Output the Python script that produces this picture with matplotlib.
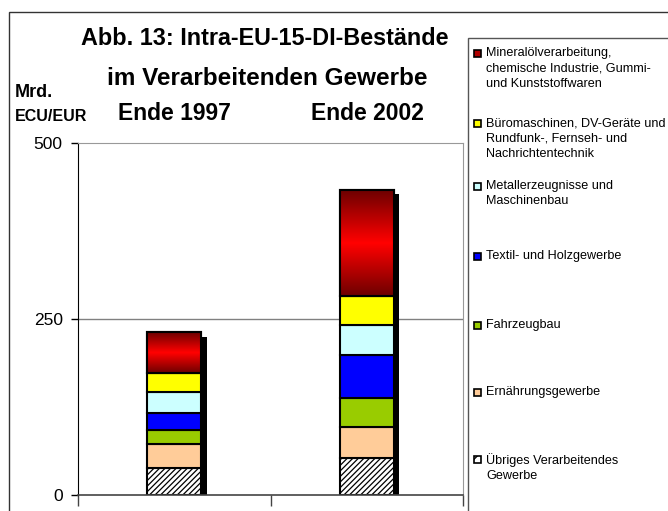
import numpy as np
import matplotlib.pyplot as plt
from matplotlib.patches import Rectangle

plt.rcParams['font.family'] = ['Liberation Sans', 'DejaVu Sans']
plt.rcParams['hatch.color'] = '#444444'
plt.rcParams['hatch.linewidth'] = 0.9

# Data (Mrd. ECU/EUR), stacked bottom -> top
years = ['Ende 1997', 'Ende 2002']
uebrige = [38, 52]
ernaehrung = [35, 45]
fahrzeug = [19, 41]
textil = [25, 61]
metall = [30, 43]
buero = [27, 41]
mineraloel = [57, 150]

series = [uebrige, ernaehrung, fahrzeug, textil, metall, buero, mineraloel]
labels = ['Übriges Verarbeitendes\nGewerbe',
          'Ernährungsgewerbe',
          'Fahrzeugbau',
          'Textil- und Holzgewerbe',
          'Metallerzeugnisse und\nMaschinenbau',
          'Büromaschinen, DV-Geräte und\nRundfunk-, Fernseh- und\nNachrichtentechnik',
          'Mineralölverarbeitung,\nchemische Industrie, Gummi-\nund Kunststoffwaren']
colors = ['white', '#FFCC99', '#99CC00', '#0000FF', '#CCFFFF', '#FFFF00', '#FF0000']
hatches = ['//////', None, None, None, None, None, None]

fig = plt.figure(figsize=(6.68, 5.11), dpi=100)
ax = fig.add_axes([78 / 668, 16 / 511, 385 / 668, 352 / 511])

x = np.arange(len(years))
width = 0.28
totals = np.sum(series, axis=0)

# shadow behind the bars
ax.bar(x + 0.03, totals - 6, width, color='black', zorder=1)

bottom = np.zeros(len(years))
for vals, col, h in zip(series, colors, hatches):
    bars = ax.bar(x, vals, width, bottom=bottom, color=col, edgecolor='black',
                  linewidth=1.5, hatch=h, zorder=2)
    bottom += vals

# gradient for the top segment (dark red - red - dark red)
grad = np.concatenate([np.linspace(0, 1, 50), np.linspace(1, 0, 50)])
cmap = plt.matplotlib.colors.LinearSegmentedColormap.from_list('rd', ['#6E0000', '#FF0000'])
for b in bars:
    x0, y0 = b.get_x(), b.get_y()
    im = ax.imshow(grad[:, None], cmap=cmap, aspect='auto', zorder=2.5,
                   extent=[x0, x0 + b.get_width(), y0, y0 + b.get_height()])
    im.set_clip_path(b)
    ax.add_patch(Rectangle((x0, y0), b.get_width(), b.get_height(), fill=False,
                           edgecolor='black', linewidth=1.5, zorder=3))

ax.set_xlim(-0.5, 1.5)
ax.set_ylim(0, 500)
ax.set_yticks([0, 250, 500])
ax.set_xticks([-0.5, 0.5, 1.5])
ax.set_xticklabels([])
ax.tick_params(axis='y', length=5, width=1, labelsize=12.5, pad=6)
ax.tick_params(axis='x', length=8, width=1, color='#444444')
ax.axhline(250, color='#808080', linewidth=1, zorder=0)
for s in ['top', 'right']:
    ax.spines[s].set_color('#999999')
ax.spines['left'].set_color('black')
ax.spines['bottom'].set_color('#444444')
ax.spines['bottom'].set_linewidth(1.2)

# titles
fig.text(265 / 668, 1 - 45 / 511, 'Abb. 13: Intra-EU-15-DI-Bestände', ha='center', va='baseline',
         fontsize=16.8, fontweight='bold')
fig.text(267 / 668, 1 - 85 / 511, 'im Verarbeitenden Gewerbe', ha='center', va='baseline',
         fontsize=17.5, fontweight='bold')
for xi, yr in zip(x, years):
    fig.text((174 + 193 * xi) / 668, 1 - 120 / 511, yr, ha='center', va='baseline',
             fontsize=16.5, fontweight='bold')
fig.text(15 / 668, 1 - 97 / 511, 'Mrd.', ha='left', va='baseline', fontsize=13, fontweight='bold')
fig.text(15 / 668, 1 - 121 / 511, 'ECU/EUR', ha='left', va='baseline', fontsize=11.5,
         fontweight='bold')

# outer frame and legend box
fig.add_artist(Rectangle((9 / 668, -0.1), 1, 1 - 12 / 511 + 0.1, transform=fig.transFigure,
                         fill=False, edgecolor='#333333', linewidth=1))
fig.add_artist(Rectangle((468 / 668, -0.1), 1, 1 - 38 / 511 + 0.1, transform=fig.transFigure,
                         fill=False, edgecolor='#555555', linewidth=1))

# legend entries (top -> bottom)
ys = [53, 123, 186, 256, 325, 392, 459]
for yy, lab, col, h in zip(ys, labels[::-1], colors[::-1], hatches[::-1]):
    fc = '#B00000' if col == '#FF0000' else col
    fig.add_artist(Rectangle((474 / 668, 1 - (yy + 4) / 511), 7 / 668, 7 / 511,
                             transform=fig.transFigure, facecolor=fc, edgecolor='black',
                             linewidth=1.2, hatch='///' if h else None))
    fig.text(486 / 668, 1 - (yy - 6) / 511, lab, ha='left', va='top', fontsize=9.1,
             linespacing=1.38)

fig.savefig('out.png', dpi=100)
